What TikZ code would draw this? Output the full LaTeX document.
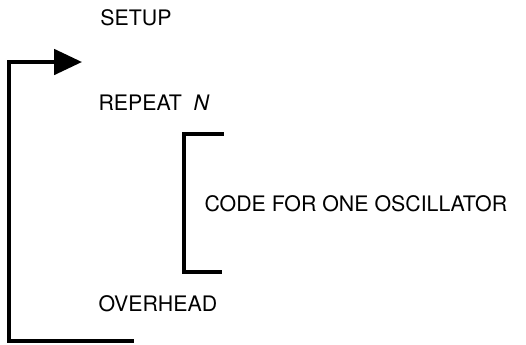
\documentclass[tikz,border=0pt]{standalone}
\usepackage{fontspec}
\setmainfont{TeX Gyre Heros}
\usetikzlibrary{arrows.meta}

\tikzset{every picture/.style={line width=0.75pt}}
\tikzset{
  lbl/.style={anchor=west, inner sep=0pt, font=\fontsize{16}{18}\selectfont},
  loopline/.style={line width=3pt, line cap=rect},
}

\begin{document}
\begin{tikzpicture}[x=0.75pt,y=0.75pt,yscale=-1,xscale=1]
        \path[use as bounding box] (0,0) rectangle (526,344);

        % Text Node
        \node[lbl] (setup) at (100,18) {SETUP};
        % Text Node
        \node[lbl] (repeat) at (98,103) {REPEAT\ \ \textit{N}};
        % Text Node
        \node[lbl] (code) at (204,203.5) {CODE FOR ONE OSCILLATOR};
        % Text Node
        \node[lbl] (overhead) at (98,304) {OVERHEAD};

        % loop corners
        \coordinate (lpin) at (82,62);
        \coordinate (lptop) at (9,62);
        \coordinate (lpbot) at (9,341);
        \coordinate (lpend) at (132,341);
        % bracket corners
        \coordinate (brtop) at (222,134);
        \coordinate (brtl) at (184,134);
        \coordinate (brbl) at (184,272);
        \coordinate (brbot) at (220,272);

        %Straight Lines: loop back to repeat
        \draw[loopline, -{Triangle[length=21pt,width=19pt]}] (lpend) -- (lpbot) -- (lptop) -- (lpin) ;
        %Straight Lines: bracket
        \draw[loopline] (brtop) -- (brtl) -- (brbl) -- (brbot) ;

\end{tikzpicture}
\end{document}
